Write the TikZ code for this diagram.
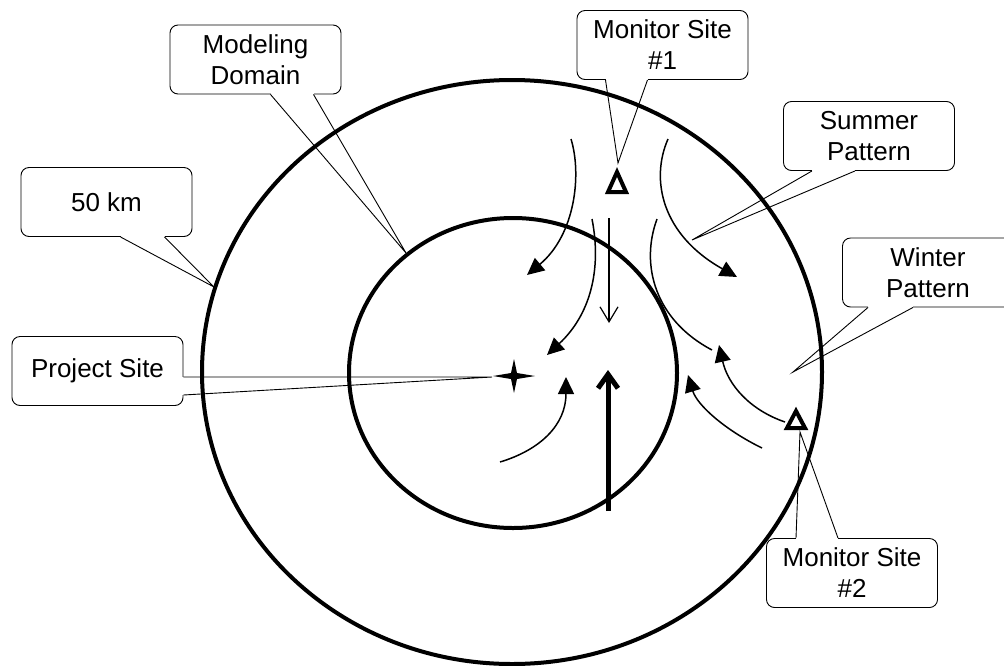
\documentclass[tikz,border=0pt]{standalone}
\usepackage{fontspec}
\setmainfont{Liberation Sans}
\usetikzlibrary{arrows.meta,calc}
\tikzset{
    %Define standard arrow tip
    >={Triangle[length=17pt,width=16pt]},
    %Define style for callout boxes
    tag/.style={
           rectangle,
           rounded corners=8pt,
           draw=black, line width=0.9pt,
           fill=white,
           minimum width=171pt,
           minimum height=69pt,
           inner sep=2pt,
           align=center,
           font=\fontsize{26}{31}\selectfont,
           },
    % Define callout pointer style
    tail/.style={draw=black, line width=0.9pt},
    ring/.style={line width=4pt},
    flow/.style={->, line width=1.5pt},
    site/.style={line width=4pt, line join=miter},
}

\begin{document}
\begin{tikzpicture}[x=1pt,y=-1pt]
\useasboundingbox (0,0) rectangle (1004,665);
% domain rings
\draw[ring] (512,372) ellipse [x radius=310, y radius=292];
\draw[ring] (513,373) ellipse [x radius=164, y radius=155];
% project site and monitors
\coordinate (site) at (514,376);
\fill (site) ++(-21,0) -- ++(18,-3) -- ++(3,-14) -- ++(3,14) -- ++(18,3) -- ++(-18,3) -- ++(-3,14) -- ++(-3,-14) -- cycle;
\draw[site] (617,172) -- (608,192) -- (626,192) -- cycle;
\draw[site] (796,411) -- (787,428) -- (805,428) -- cycle;
\coordinate (k50) at (214,287);
\coordinate (mdt) at (406,253);
\coordinate (m1t) at (618,163);
\coordinate (spt) at (692,240);
\coordinate (wpt) at (793,372);
\coordinate (pst) at (492,377);
\coordinate (m2t) at (800,432);
% summer pattern
\draw[flow] (571,139) .. controls (582,175) and (575,235) .. (527,275);
\draw[flow] (668,139) .. controls (650,180) and (662,235) .. (737,277);
\draw[flow] (592,219) .. controls (602,270) and (590,315) .. (547,355);
\draw[line width=1.5pt] (657,219) .. controls (640,265) and (655,320) .. (712,350);
\draw[line width=1.2pt, -{Straight Barb[length=15pt,width=18pt]}] (609,218) -- (609,323);
% winter pattern
\draw[flow] (500,462) .. controls (540,450) and (566,425) .. (566,377);
\draw[flow] (762,448) .. controls (725,430) and (697,405) .. (688,375);
\draw[flow] (785,422) .. controls (750,410) and (728,385) .. (719,345);
\draw[line width=5pt, -{Straight Barb[length=14pt,width=20pt]}] (608,511) -- (608,370);
% callouts
\node[tag] (km) at (106.5,202) {50 km};
\node[tag] (md) at (255.5,59.5) {Modeling\\Domain};
\node[tag] (m1) at (662.5,45) {Monitor Site\\\#1};
\node[tag] (sp) at (869,136) {Summer\\Pattern};
\node[tag] (wp) at (928,272.5) {Winter\\Pattern};
\node[tag] (ps) at (97.5,371) {Project Site};
\node[tag] (m2) at (852,573) {Monitor Site\\\#2};
\foreach \b/\t/\u/\v in {km.south/k50/14/58, md.south/mdt/15/58, m1.south/m1t/-57/-15, sp.south/spt/-57/-14, wp.south/wpt/-60/-15, m2.north/m2t/-56/-14}{
  \draw[white, line width=2pt] ($(\b)+(\u,0)$) -- ($(\b)+(\v,0)$);
  \draw[tail] ($(\b)+(\u,0)$) -- (\t) -- ($(\b)+(\v,0)$);
}
\draw[white, line width=2pt] ($(ps.east)+(0,6)$) -- ($(ps.east)+(0,24)$);
\draw[tail] ($(ps.east)+(0,6)$) -- (pst) -- ($(ps.east)+(0,24)$);
\end{tikzpicture}
\end{document}
